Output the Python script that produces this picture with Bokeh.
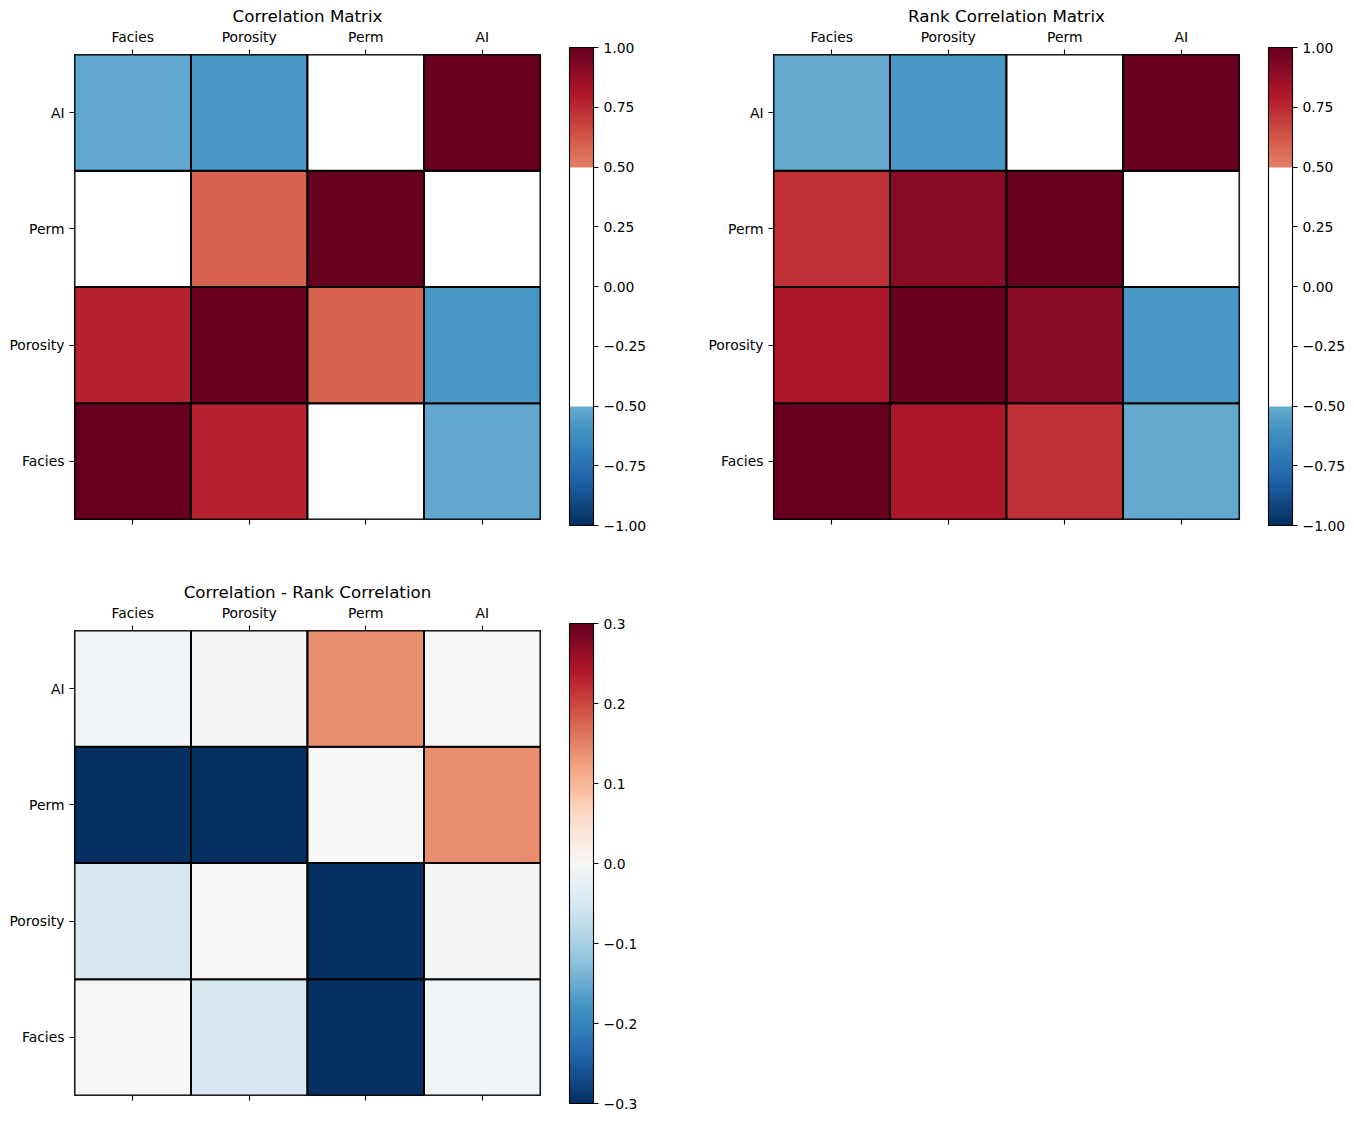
import numpy as np
from bokeh.plotting import figure
from bokeh.models import (ColumnDataSource, LinearColorMapper, FactorRange,
                          FixedTicker, CategoricalAxis, ColorBar)
from bokeh.layouts import row, column
from bokeh.transform import transform
from bokeh.embed import file_html
from bokeh.resources import INLINE

# ---------------- data ----------------
variables = ["Facies", "Porosity", "Perm", "AI"]

corr_facies = [1.00, 0.77, 0.35, -0.52]
corr_porosity = [0.77, 1.00, 0.59, -0.585]
corr_perm = [0.35, 0.59, 1.00, -0.25]
corr_ai = [-0.52, -0.585, -0.25, 1.00]

rank_facies = [1.00, 0.82, 0.73, -0.51]
rank_porosity = [0.82, 1.00, 0.90, -0.58]
rank_perm = [0.73, 0.90, 1.00, -0.39]
rank_ai = [-0.51, -0.58, -0.39, 1.00]

mask_threshold = 0.5

corr_ticks = [-1.0, -0.75, -0.5, -0.25, 0.0, 0.25, 0.5, 0.75, 1.0]
corr_tick_labels = ["\u22121.00", "\u22120.75", "\u22120.50", "\u22120.25", "0.00",
                    "0.25", "0.50", "0.75", "1.00"]
diff_ticks = [-0.3, -0.2, -0.1, 0.0, 0.1, 0.2, 0.3]
diff_tick_labels = ["\u22120.3", "\u22120.2", "\u22120.1", "0.0", "0.1", "0.2", "0.3"]

titles = ["Correlation Matrix", "Rank Correlation Matrix", "Correlation - Rank Correlation"]

# ---------------- colour maps ----------------
RDBU_R = ["#053061", "#2166ac", "#4393c3", "#92c5de", "#d1e5f0", "#f7f7f7",
          "#fddbc7", "#f4a582", "#d6604d", "#b2182b", "#67001f"]


def hex2rgb(h):
    return [int(h[i:i + 2], 16) for i in (1, 3, 5)]


anchors = np.array([hex2rgb(h) for h in RDBU_R], dtype=float)
anchor_pos = np.linspace(0, 1, len(RDBU_R))


def rdbu_r(n=256):
    t = np.linspace(0, 1, n)
    cols = np.stack([np.interp(t, anchor_pos, anchors[:, k]) for k in range(3)], axis=1)
    return ["#%02x%02x%02x" % tuple(int(round(c)) for c in col) for col in cols]


full_pal = rdbu_r(256)
centers = -1 + (np.arange(256) + 0.5) * 2 / 256
masked_pal = ["#ffffff" if abs(c) < mask_threshold else col for c, col in zip(centers, full_pal)]

corr_mapper = LinearColorMapper(palette=masked_pal, low=-1, high=1)
diff_mapper = LinearColorMapper(palette=full_pal, low=diff_ticks[0], high=diff_ticks[-1])

corr_rows = [corr_facies, corr_porosity, corr_perm, corr_ai]
rank_rows = [rank_facies, rank_porosity, rank_perm, rank_ai]
diff_rows = [[c - r for c, r in zip(cr, rr)] for cr, rr in zip(corr_rows, rank_rows)]

FONT = "DejaVu Sans"
TICK_FS = "13.9px"
TITLE_FS = "16.7px"
FRAME_W, FRAME_H = 466, 465


def style_axis(ax):
    ax.axis_line_color = None
    ax.major_tick_line_color = "black"
    ax.major_tick_line_width = 1.1
    ax.major_tick_out = 5
    ax.major_tick_in = 0
    ax.minor_tick_line_color = None
    ax.major_label_standoff = 5
    ax.major_label_text_font = FONT
    ax.major_label_text_font_size = TICK_FS
    ax.major_label_text_color = "black"


def heatmap(rows_vals, mapper, ticks, labels, title, top_b, bottom_b, left_b, right_b,
            cb_height, cb_bottom_offset):
    xs, ys, vs = [], [], []
    for yname, vals in zip(variables, rows_vals):
        for xname, v in zip(variables, vals):
            xs.append(xname)
            ys.append(yname)
            vs.append(v)
    src = ColumnDataSource(dict(x=xs, y=ys, v=vs))
    p = figure(x_range=FactorRange(factors=variables), y_range=FactorRange(factors=variables),
               x_axis_location="above", frame_width=FRAME_W, frame_height=FRAME_H,
               min_border_left=left_b, min_border_right=right_b,
               min_border_top=top_b, min_border_bottom=bottom_b,
               output_backend="svg", toolbar_location=None, title=title)
    p.rect(x="x", y="y", width=1, height=1, source=src,
           fill_color=transform("v", mapper), line_color="black", line_width=2)
    bottom = CategoricalAxis()
    p.add_layout(bottom, "below")
    for ax in p.axis:
        style_axis(ax)
    bottom.major_label_text_font_size = "1px"
    bottom.major_label_text_color = None
    bottom.major_label_standoff = 0
    p.grid.visible = False
    p.outline_line_color = "black"
    p.outline_line_width = 1.1
    p.title.align = "center"
    p.title.text_font = FONT
    p.title.text_font_size = TITLE_FS
    p.title.text_font_style = "normal"
    p.title.text_color = "black"
    p.title.standoff = 0

    cb = ColorBar(color_mapper=mapper, width=24, height=cb_height,
                  location=(FRAME_W + 29, cb_bottom_offset), padding=0, margin=0,
                  ticker=FixedTicker(ticks=ticks, minor_ticks=[]),
                  major_label_overrides={t: l for t, l in zip(ticks, labels)},
                  major_tick_in=0, major_tick_out=5, major_tick_line_color="black",
                  major_tick_line_width=1.1, minor_tick_line_color=None,
                  label_standoff=5, major_label_text_font=FONT,
                  major_label_text_font_size=TICK_FS, major_label_text_color="black",
                  bar_line_color="black", bar_line_width=1.1,
                  border_line_color=None, background_fill_color=None)
    p.add_layout(cb, "center")
    return p


f1 = heatmap(corr_rows, corr_mapper, corr_ticks, corr_tick_labels, titles[0],
             54, 41, 74, 165, 478, -6)
f2 = heatmap(rank_rows, corr_mapper, corr_ticks, corr_tick_labels, titles[1],
             54, 41, 67, 106, 478, -6)
f3 = heatmap(diff_rows, diff_mapper, diff_ticks, diff_tick_labels, titles[2],
             70, 15, 74, 165, 480, -8)

layout = column(row(f1, f2), f3)

open("out.html", "w").write(file_html(layout, INLINE))
